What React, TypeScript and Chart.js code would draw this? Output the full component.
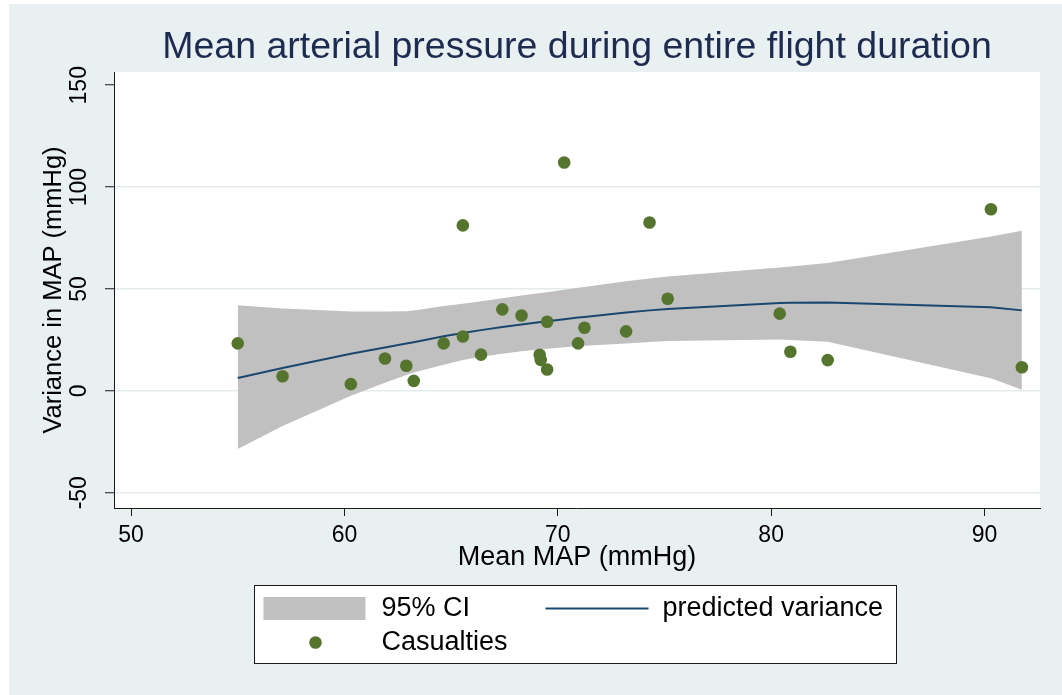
import { useEffect, useRef } from "react";
import { Chart, registerables } from "chart.js";

Chart.register(...registerables);

// Observed casualties: mean MAP vs. variance in MAP (mmHg)
const casualtyMeanMap = [
  55.0, 57.1, 60.3, 61.9, 62.9, 63.25, 64.65, 65.55, 65.55, 66.4, 67.4, 68.3, 69.15,
  69.2, 69.5, 69.5, 70.3, 70.95, 71.25, 73.2, 74.3, 75.15, 80.4, 80.9, 82.65, 90.3, 91.75,
];
const casualtyVariance = [
  23.3, 7.2, 3.3, 15.9, 12.3, 4.9, 23.3, 81.2, 26.7, 17.8, 40.0, 37.0, 17.7,
  15.2, 10.5, 33.9, 112.1, 23.3, 31.0, 29.2, 82.6, 45.2, 37.9, 19.2, 15.1, 89.1, 11.6,
];

// Quadratic prediction with its 95% confidence interval
const fitMeanMap = [
  55.0, 57.1, 60.3, 61.9, 62.9, 63.25, 64.65, 65.55, 66.4, 67.4, 68.3, 69.2,
  69.5, 70.3, 70.95, 71.25, 73.2, 74.3, 75.15, 80.4, 80.9, 82.65, 90.3, 91.75,
];
const fitVariance = [
  6.3, 11.2, 18.2, 21.3, 23.2, 23.9, 26.8, 28.4, 29.8, 31.3, 32.6, 33.8,
  34.2, 35.2, 36.0, 36.3, 38.4, 39.5, 40.2, 43.1, 43.2, 43.4, 41.0, 39.5,
];
const ciUpper = [
  42.0, 40.4, 39.0, 38.9, 39.1, 39.4, 41.6, 42.8, 44.0, 45.5, 46.8, 48.0,
  48.4, 49.6, 50.6, 51.0, 53.8, 55.2, 56.1, 60.5, 61.0, 62.8, 75.8, 78.6,
];
const ciLower = [
  -28.5, -17.3, -2.4, 4.0, 7.8, 9.0, 12.8, 15.2, 16.7, 18.2, 19.4, 20.4,
  20.7, 21.4, 21.9, 22.1, 23.3, 24.0, 24.5, 25.2, 25.0, 24.1, 6.2, 0.5,
];

const xTicks = [50, 60, 70, 80, 90];
const yTicks = [-50, 0, 50, 100, 150];

const FONT = "'Liberation Sans', Arial, Helvetica, sans-serif";
const BAND_COLOR = "#c0c0c0";
const FIT_COLOR = "#1a476f";
const POINT_COLOR = "#55752f";
const REGION_COLOR = "#e9f0f2";
const GRID_COLOR = "#e3ebee";
const AXIS_COLOR = "#1a1a1a";

const pairs = (xs: number[], ys: number[]) => xs.map((x, i) => ({ x, y: ys[i] }));

const backgroundPlugin = {
  id: "stataBackground",
  beforeDraw(chart: any) {
    const { ctx, width, height, chartArea } = chart;
    ctx.save();
    ctx.fillStyle = "#ffffff";
    ctx.fillRect(0, 0, width, height);
    ctx.fillStyle = REGION_COLOR;
    ctx.fillRect(9, 4, width - 9, height - 4);
    ctx.fillStyle = "#ffffff";
    ctx.fillRect(chartArea.left, chartArea.top, chartArea.right - chartArea.left, chartArea.bottom - chartArea.top);
    ctx.restore();
  },
};

const legendPlugin = {
  id: "boxedLegend",
  afterDraw(chart: any) {
    const { ctx } = chart;
    const left = 254.5;
    const top = 585.5;
    const w = 642;
    const h = 78;
    const row1 = top + 23;
    const row2 = top + 57;
    ctx.save();
    ctx.fillStyle = "#ffffff";
    ctx.fillRect(left, top, w, h);
    ctx.strokeStyle = AXIS_COLOR;
    ctx.lineWidth = 1;
    ctx.strokeRect(left, top, w, h);

    ctx.fillStyle = BAND_COLOR;
    ctx.fillRect(left + 9, row1 - 11.5, 102, 23);

    ctx.strokeStyle = FIT_COLOR;
    ctx.lineWidth = 2;
    ctx.beginPath();
    ctx.moveTo(left + 291, row1);
    ctx.lineTo(left + 394, row1);
    ctx.stroke();

    ctx.fillStyle = POINT_COLOR;
    ctx.beginPath();
    ctx.arc(left + 61, row2, 6.3, 0, Math.PI * 2);
    ctx.fill();

    ctx.fillStyle = "#000000";
    ctx.font = `27px ${FONT}`;
    ctx.textBaseline = "middle";
    ctx.textAlign = "left";
    ctx.fillText("95% CI", left + 127, row1);
    ctx.fillText("predicted variance", left + 408, row1);
    ctx.fillText("Casualties", left + 127, row2);
    ctx.restore();
  },
};

export default function App() {
  const canvasRef = useRef<HTMLCanvasElement | null>(null);

  useEffect(() => {
    const canvas = canvasRef.current;
    if (!canvas) return;
    const chart = new Chart(canvas, {
      type: "line",
      data: {
        datasets: [
          {
            label: "lower",
            data: pairs(fitMeanMap, ciLower),
            borderWidth: 0,
            borderColor: "rgba(0,0,0,0)",
            pointRadius: 0,
            fill: false,
            order: 3,
          },
          {
            label: "95% CI",
            data: pairs(fitMeanMap, ciUpper),
            borderWidth: 0,
            borderColor: "rgba(0,0,0,0)",
            backgroundColor: BAND_COLOR,
            pointRadius: 0,
            fill: "-1",
            order: 2,
          },
          {
            label: "predicted variance",
            data: pairs(fitMeanMap, fitVariance),
            borderColor: FIT_COLOR,
            borderWidth: 2,
            pointRadius: 0,
            fill: false,
            tension: 0,
            order: 1,
          },
          {
            label: "Casualties",
            data: pairs(casualtyMeanMap, casualtyVariance),
            showLine: false,
            pointRadius: 6.3,
            pointBorderWidth: 0,
            pointBackgroundColor: POINT_COLOR,
            pointBorderColor: POINT_COLOR,
            order: 0,
          },
        ],
      },
      options: {
        responsive: false,
        animation: false,
        layout: { padding: { left: 0, right: 22, top: 0, bottom: 107 } },
        plugins: {
          legend: { display: false },
          tooltip: { enabled: false },
          title: {
            display: true,
            fullSize: false,
            text: "Mean arterial pressure during entire flight duration",
            color: "#1e2b50",
            font: { family: FONT, size: 37.5, weight: "normal", lineHeight: 1.2 },
            padding: { top: 25, bottom: 2 },
          },
        },
        scales: {
          x: {
            type: "linear",
            min: 49.2,
            max: 92.6,
            afterBuildTicks: (s: any) => {
              s.ticks = xTicks.map((v) => ({ value: v }));
            },
            afterFit: (s: any) => {
              s.height = 80;
            },
            grid: {
              display: true,
              drawOnChartArea: false,
              drawTicks: true,
              tickLength: 8,
              tickColor: AXIS_COLOR,
              tickWidth: 1,
            },
            border: { display: true, color: AXIS_COLOR, width: 1 },
            ticks: {
              maxRotation: 0,
              minRotation: 0,
              padding: 6,
              color: "#000",
              font: { family: FONT, size: 23 },
            },
            title: {
              display: true,
              text: "Mean MAP (mmHg)",
              color: "#000",
              font: { family: FONT, size: 27, lineHeight: 1.2 },
              padding: { top: 0, bottom: 14 },
            },
          },
          y: {
            type: "linear",
            min: -57.5,
            max: 156.5,
            afterBuildTicks: (s: any) => {
              s.ticks = yTicks.map((v) => ({ value: v }));
            },
            afterFit: (s: any) => {
              s.width = 114;
            },
            grid: {
              display: true,
              drawOnChartArea: true,
              color: (c: any) => (c.tick && c.tick.value === 150 ? "rgba(0,0,0,0)" : GRID_COLOR),
              lineWidth: 1.5,
              drawTicks: true,
              tickLength: 9,
              tickColor: AXIS_COLOR,
              tickWidth: 1,
            },
            border: { display: true, color: AXIS_COLOR, width: 1 },
            ticks: {
              minRotation: 90,
              maxRotation: 90,
              crossAlign: "center",
              padding: 6,
              color: "#000",
              font: { family: FONT, size: 23 },
            },
            title: {
              display: true,
              text: "Variance in MAP (mmHg)",
              color: "#000",
              font: { family: FONT, size: 25.5, lineHeight: 1.2 },
              padding: { top: 39, bottom: 0 },
            },
          },
        },
      },
      plugins: [backgroundPlugin, legendPlugin],
    } as any);
    return () => chart.destroy();
  }, []);

  return (
    <div style={{ position: "absolute", left: 0, top: 0, width: 1062, height: 695 }}>
      <canvas ref={canvasRef} width={1062} height={695} style={{ display: "block" }} />
    </div>
  );
}
